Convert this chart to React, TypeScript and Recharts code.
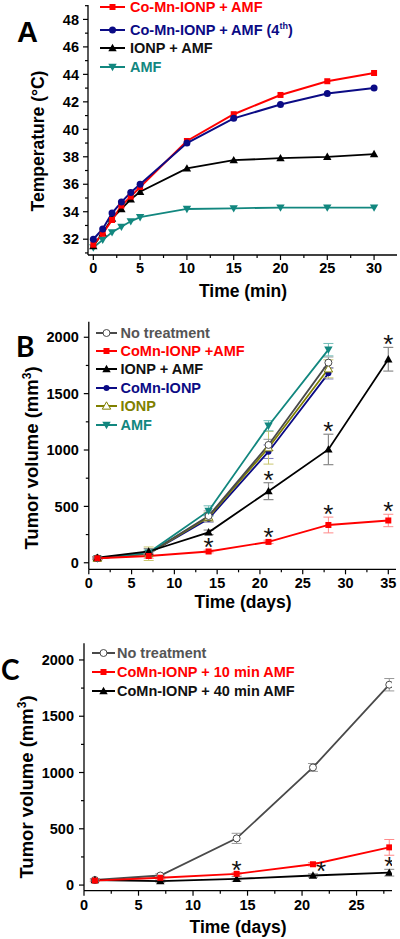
import React from 'react';
import { LineChart, Line, XAxis, YAxis, ErrorBar, Legend, Label } from 'recharts';

const FONT = '"Liberation Sans", Arial, Helvetica, sans-serif';

// ---------------- Panel A : heating curves ----------------
const timeMin = [0, 1, 2, 3, 4, 5, 10, 15, 20, 25, 30];
const tempCoMnAMF = [31.6, 32.4, 33.4, 34.45, 35.1, 35.8, 39.15, 41.1, 42.5, 43.5, 44.1];
const tempCoMnAMF4th = [32.0, 32.75, 33.9, 34.7, 35.4, 36.0, 39.0, 40.8, 41.8, 42.6, 43.0];
const tempIONPAMF = [31.5, 32.45, 33.5, 34.2, 34.9, 35.45, 37.15, 37.75, 37.9, 38.0, 38.2];
const tempAMF = [31.4, 31.95, 32.5, 32.9, 33.3, 33.6, 34.2, 34.25, 34.3, 34.3, 34.3];
const aXMajor = [0, 5, 10, 15, 20, 25, 30];
const aXMinor = [2.5, 7.5, 12.5, 17.5, 22.5, 27.5];
const aYMajor = [32, 34, 36, 38, 40, 42, 44, 46, 48];
const aYMinor = [31, 33, 35, 37, 39, 41, 43, 45, 47, 49];

// ---------------- Panel B : tumor volume ----------------
const daysB = [1, 7, 14, 21, 28, 35];
const bNoTreat = [40, 85, 415, 1045, 1775, null];
const bNoTreatErr = [10, 15, 45, 50, 50, null];
const bCoMnAMF = [40, 60, 100, 185, 335, 375];
const bCoMnAMFErr = [10, 20, 12, 15, 70, 55];
const bIONPAMF = [45, 100, 270, 635, 1005, 1805];
const bIONPAMFErr = [10, 25, 20, 75, 135, 105];
const bCoMn = [40, 80, 390, 985, 1680, null];
const bCoMnErr = [10, 15, 30, 60, 50, null];
const bIONP = [40, 80, 405, 1020, 1720, null];
const bIONPErr = [15, 60, 40, 145, 80, null];
const bAMF = [40, 90, 460, 1215, 1890, null];
const bAMFErr = [10, 20, 45, 45, 55, null];
const bSigCoMnAMF = [false, false, true, true, true, true];
const bSigIONPAMF = [false, false, false, true, true, true];
const bXMajor = [0, 5, 10, 15, 20, 25, 30, 35];
const bXMinor = [2.5, 7.5, 12.5, 17.5, 22.5, 27.5, 32.5];
const volMajor = [0, 500, 1000, 1500, 2000];
const volMinor = [250, 750, 1250, 1750];

// ---------------- Panel C : AMF duration ----------------
const daysC = [1, 7, 14, 21, 28];
const cNoTreat = [45, 85, 415, 1045, 1780];
const cNoTreatErr = [10, 15, 45, 35, 55];
const c10min = [40, 65, 100, 185, 335];
const c10minErr = [10, 10, 10, 15, 70];
const c40min = [45, 35, 55, 85, 110];
const c40minErr = [10, 10, 20, 15, 30];
const cSig10min = [false, false, true, false, false];
const cSig40min = [false, false, false, true, true];
const cXMajor = [0, 5, 10, 15, 20, 25];
const cXMinor = [2.5, 7.5, 12.5, 17.5, 22.5, 27.5];

// ---------------- colours ----------------
const RED = '#ff0000';
const NAVY = '#0b0b85';
const BLACK = '#000000';
const TEAL = '#12877f';
const OLIVE = '#808000';
const GRAY = '#4a4a4a';

// ---------------- tables ----------------
const tableA = timeMin.map((t, i) => ({
  t,
  coMn: tempCoMnAMF[i],
  coMn4: tempCoMnAMF4th[i],
  ionp: tempIONPAMF[i],
  amf: tempAMF[i],
}));

const star = (flag: boolean, v: number | null, e: number | null) =>
  flag && v != null ? v + (e || 0) : null;

const tableB = daysB.map((d, i) => ({
  d,
  noTreat: bNoTreat[i], noTreatErr: bNoTreatErr[i],
  coMnAMF: bCoMnAMF[i], coMnAMFErr: bCoMnAMFErr[i],
  ionpAMF: bIONPAMF[i], ionpAMFErr: bIONPAMFErr[i],
  coMn: bCoMn[i], coMnErr: bCoMnErr[i],
  ionp: bIONP[i], ionpErr: bIONPErr[i],
  amf: bAMF[i], amfErr: bAMFErr[i],
  starRed: star(bSigCoMnAMF[i], bCoMnAMF[i], bCoMnAMFErr[i]),
  starBlack: star(bSigIONPAMF[i], bIONPAMF[i], bIONPAMFErr[i]),
}));

const tableC = daysC.map((d, i) => ({
  d,
  noTreat: cNoTreat[i], noTreatErr: cNoTreatErr[i],
  m10: c10min[i], m10Err: c10minErr[i],
  m40: c40min[i], m40Err: c40minErr[i],
  starRed: star(cSig10min[i], c10min[i], c10minErr[i]),
  starBlack: star(cSig40min[i], c40min[i], c40minErr[i]),
}));

// ---------------- markers ----------------
type Shape = 'square' | 'circle' | 'triUp' | 'triDown' | 'openCircle' | 'openTriUp';

function Marker({ cx, cy, shape, color, size }: { cx: number; cy: number; shape: Shape; color: string; size: number }) {
  const s = size;
  switch (shape) {
    case 'square':
      return <rect x={cx - s / 2} y={cy - s / 2} width={s} height={s} fill={color} />;
    case 'circle':
      return <circle cx={cx} cy={cy} r={s / 2} fill={color} />;
    case 'openCircle':
      return <circle cx={cx} cy={cy} r={s / 2} fill="#fff" stroke={color} strokeWidth={1} />;
    case 'triUp':
      return <path d={`M${cx},${cy - s * 0.6}L${cx + s * 0.6},${cy + s * 0.45}L${cx - s * 0.6},${cy + s * 0.45}Z`} fill={color} />;
    case 'openTriUp':
      return <path d={`M${cx},${cy - s * 0.6}L${cx + s * 0.6},${cy + s * 0.45}L${cx - s * 0.6},${cy + s * 0.45}Z`} fill="#fff" stroke={color} strokeWidth={1} />;
    case 'triDown':
      return <path d={`M${cx},${cy + s * 0.6}L${cx + s * 0.6},${cy - s * 0.45}L${cx - s * 0.6},${cy - s * 0.45}Z`} fill={color} />;
  }
  return null;
}

const dotFn = (shape: Shape, color: string, size: number) => (p: any) => {
  const key = `${p.dataKey}-${p.index}`;
  if (p.cx == null || p.cy == null || p.value == null || isNaN(p.cy)) return <g key={key} />;
  return <Marker key={key} cx={p.cx} cy={p.cy} shape={shape} color={color} size={size} />;
};

const starDot = (shiftFor?: (d: number) => number) => (p: any) => {
  const key = `${p.dataKey}-${p.index}`;
  if (p.cx == null || p.cy == null || p.value == null || isNaN(p.cy)) return <g key={key} />;
  const dx = shiftFor ? shiftFor(p.payload.d) : 0;
  return (
    <text key={key} x={p.cx + dx} y={p.cy + 6} textAnchor="middle" fontSize={26} fontFamily={FONT} fill="#111">
      *
    </text>
  );
};

// ---------------- ticks ----------------
const xTick = (majors: number[], labelDy: number) => (props: any) => {
  const { x, y, payload } = props;
  const major = majors.includes(payload.value);
  const len = major ? 5 : 3;
  return (
    <g>
      <line x1={x} x2={x} y1={y} y2={y + len} stroke="#000" strokeWidth={1.2} />
      {major && (
        <text x={x} y={y + labelDy} textAnchor="middle" fontSize={14.5} fontWeight="bold" fontFamily={FONT} fill="#000">
          {payload.value}
        </text>
      )}
    </g>
  );
};

const yTick = (majors: number[], gap: number) => (props: any) => {
  const { x, y, payload } = props;
  const major = majors.includes(payload.value);
  const len = major ? 5 : 3;
  return (
    <g>
      <line x1={x - len} x2={x} y1={y} y2={y} stroke="#000" strokeWidth={1.2} />
      {major && (
        <text x={x - gap} y={y} dy="0.36em" textAnchor="end" fontSize={14.5} fontWeight="bold" fontFamily={FONT} fill="#000">
          {payload.value}
        </text>
      )}
    </g>
  );
};

const AXIS = { stroke: '#000', strokeWidth: 1.3 };
const sorted = (a: number[], b: number[]) => [...a, ...b].sort((p, q) => p - q);

// ---------------- legend ----------------
type LegendItem = { label: React.ReactNode; color: string; text: string; shape: Shape; size: number };

const legendContent = (items: LegendItem[], left: number, centers: number[], lineW: number, gap: number) => () => (
  <div style={{ position: 'relative', width: 300, height: 130 }}>
    {items.map((it, i) => (
      <div
        key={i}
        style={{
          position: 'absolute',
          left,
          top: centers[i] - 9,
          height: 18,
          display: 'flex',
          alignItems: 'center',
          whiteSpace: 'nowrap',
          fontFamily: FONT,
          fontWeight: 'bold',
          fontSize: 14.5,
          color: it.text,
        }}
      >
        <svg width={lineW} height={12} style={{ display: 'block' }}>
          <line x1={0} x2={lineW} y1={6} y2={6} stroke={it.color} strokeWidth={2} />
          <Marker cx={lineW / 2} cy={6} shape={it.shape} color={it.color} size={it.size} />
        </svg>
        <span style={{ marginLeft: gap, lineHeight: '18px' }}>{it.label}</span>
      </div>
    ))}
  </div>
);

const legendA: LegendItem[] = [
  { label: 'Co-Mn-IONP + AMF', color: RED, text: RED, shape: 'square', size: 6 },
  { label: <>Co-Mn-IONP + AMF (4<sup style={{ fontSize: 9, verticalAlign: 'top', lineHeight: '10px' }}>th</sup>)</>, color: NAVY, text: NAVY, shape: 'circle', size: 7 },
  { label: 'IONP + AMF', color: BLACK, text: '#111', shape: 'triUp', size: 7 },
  { label: 'AMF', color: TEAL, text: TEAL, shape: 'triDown', size: 7 },
];

const legendB: LegendItem[] = [
  { label: 'No treatment', color: GRAY, text: '#555', shape: 'openCircle', size: 7 },
  { label: 'CoMn-IONP +AMF', color: RED, text: RED, shape: 'square', size: 6 },
  { label: 'IONP + AMF', color: BLACK, text: '#111', shape: 'triUp', size: 7 },
  { label: 'CoMn-IONP', color: NAVY, text: NAVY, shape: 'circle', size: 6 },
  { label: 'IONP', color: OLIVE, text: OLIVE, shape: 'openTriUp', size: 7 },
  { label: 'AMF', color: TEAL, text: TEAL, shape: 'triDown', size: 7 },
];

const legendC: LegendItem[] = [
  { label: 'No treatment', color: GRAY, text: '#555', shape: 'openCircle', size: 7 },
  { label: 'CoMn-IONP + 10 min AMF', color: RED, text: RED, shape: 'square', size: 6 },
  { label: 'CoMn-IONP + 40 min AMF', color: BLACK, text: '#111', shape: 'triUp', size: 7 },
];

const legendWrap = { position: 'absolute' as const, left: 0, top: 0, width: 300, height: 130 };

// ---------------- titles ----------------
const volTitle = (x: number, y: number, letter: string, lx: number, ly: number, lfs: number) => () => (
  <g>
    <text
      x={x}
      y={y}
      transform={`rotate(-90, ${x}, ${y})`}
      textAnchor="middle"
      fontSize={18.5}
      fontWeight="bold"
      fontFamily={FONT}
      fill="#000"
    >
      <tspan>Tumor volume (mm</tspan>
      <tspan dy={-7} fontSize={12}>3</tspan>
      <tspan dy={7}>)</tspan>
    </text>
    <text x={lx} y={ly} fontSize={lfs} fontWeight="bold" fontFamily={'Lato, "Open Sans", sans-serif'} fill="#000">
      {letter}
    </text>
  </g>
);

const xTitle = (text: string, x: number, y: number, fs: number) => () => (
  <text x={x} y={y} textAnchor="middle" fontSize={fs} fontWeight="bold" fontFamily={FONT} fill="#000">
    {text}
  </text>
);

function PanelA() {
  return (
    <LineChart width={400} height={310} data={tableA} margin={{ top: 5, right: 3, bottom: 10, left: 0 }}>
      <XAxis
        dataKey="t"
        type="number"
        domain={[-0.57, 32.45]}
        allowDataOverflow
        ticks={sorted(aXMajor, aXMinor)}
        interval={0}
        tickSize={0}
        tickMargin={0}
        tickLine={false}
        tick={xTick(aXMajor, 18)}
        axisLine={AXIS}
        height={45}
      >
        <Label content={xTitle('Time (min)', 243, 297, 17.5)} />
      </XAxis>
      <YAxis
        type="number"
        domain={[30.85, 49.05]}
        allowDataOverflow
        ticks={sorted(aYMajor, aYMinor)}
        interval={0}
        tickSize={0}
        tickMargin={0}
        tickLine={false}
        tick={yTick(aYMajor, 9)}
        axisLine={AXIS}
        width={88}
      >
        <Label
          content={() => (
            <g>
              <text x={44} y={141} transform="rotate(-90, 44, 141)" textAnchor="middle" fontSize={17.5} fontWeight="bold" fontFamily={FONT} fill="#000">
                Temperature (°C)
              </text>
              <text x={17} y={42} fontSize={29} fontWeight="bold" fontFamily={FONT} fill="#000">A</text>
            </g>
          )}
        />
      </YAxis>
      <Legend
        layout="vertical"
        align="center"
        verticalAlign="middle"
        wrapperStyle={legendWrap}
        content={legendContent(legendA, 100, [7.3, 30, 47.7, 66.7], 25, 5)}
      />
      <Line dataKey="amf" stroke={TEAL} strokeWidth={1.8} dot={dotFn('triDown', TEAL, 7)} activeDot={false} isAnimationActive={false} />
      <Line dataKey="ionp" stroke={BLACK} strokeWidth={1.8} dot={dotFn('triUp', BLACK, 7)} activeDot={false} isAnimationActive={false} />
      <Line dataKey="coMn" stroke={RED} strokeWidth={2} dot={dotFn('square', RED, 6)} activeDot={false} isAnimationActive={false} />
      <Line dataKey="coMn4" stroke={NAVY} strokeWidth={2} dot={dotFn('circle', NAVY, 7)} activeDot={false} isAnimationActive={false} />
    </LineChart>
  );
}

function PanelB() {
  return (
    <LineChart width={400} height={310} data={tableB} margin={{ top: 11.7, right: 4, bottom: 5.7, left: 0 }}>
      <XAxis
        dataKey="d"
        type="number"
        domain={[0, 35.9]}
        allowDataOverflow
        ticks={sorted(bXMajor, bXMinor)}
        interval={0}
        tickSize={0}
        tickMargin={0}
        tickLine={false}
        tick={xTick(bXMajor, 19)}
        axisLine={AXIS}
        height={45}
      >
        <Label content={xTitle('Time (days)', 243, 298, 17.5)} />
      </XAxis>
      <YAxis
        type="number"
        domain={[-58, 2138]}
        allowDataOverflow
        ticks={sorted(volMajor, volMinor)}
        interval={0}
        tickSize={0}
        tickMargin={0}
        tickLine={false}
        tick={yTick(volMajor, 10)}
        axisLine={AXIS}
        width={88.8}
      >
        <Label content={volTitle(38, 148, 'B', 16, 47, 28)} />
      </YAxis>
      <Legend
        layout="vertical"
        align="center"
        verticalAlign="middle"
        wrapperStyle={legendWrap}
        content={legendContent(legendB, 96, [22.7, 41, 59.4, 77.8, 96.2, 114.6], 21, 3.5)}
      />
      <Line dataKey="coMn" stroke={NAVY} strokeWidth={1.8} dot={dotFn('circle', NAVY, 6)} activeDot={false} isAnimationActive={false}>
        <ErrorBar dataKey="coMnErr" width={5} stroke="#7d7dc0" strokeWidth={1} direction="y" />
      </Line>
      <Line dataKey="ionp" stroke={OLIVE} strokeWidth={1.8} dot={dotFn('openTriUp', OLIVE, 7)} activeDot={false} isAnimationActive={false}>
        <ErrorBar dataKey="ionpErr" width={5} stroke="#c9c770" strokeWidth={1} direction="y" />
      </Line>
      <Line dataKey="noTreat" stroke={GRAY} strokeWidth={1.8} dot={dotFn('openCircle', GRAY, 7)} activeDot={false} isAnimationActive={false}>
        <ErrorBar dataKey="noTreatErr" width={5} stroke="#999" strokeWidth={1} direction="y" />
      </Line>
      <Line dataKey="amf" stroke={TEAL} strokeWidth={1.8} dot={dotFn('triDown', TEAL, 7)} activeDot={false} isAnimationActive={false}>
        <ErrorBar dataKey="amfErr" width={5} stroke="#72bdb7" strokeWidth={1} direction="y" />
      </Line>
      <Line dataKey="ionpAMF" stroke={BLACK} strokeWidth={1.8} dot={dotFn('triUp', BLACK, 7)} activeDot={false} isAnimationActive={false}>
        <ErrorBar dataKey="ionpAMFErr" width={5} stroke="#8a8a8a" strokeWidth={1.2} direction="y" />
      </Line>
      <Line dataKey="coMnAMF" stroke={RED} strokeWidth={1.8} dot={dotFn('square', RED, 6)} activeDot={false} isAnimationActive={false}>
        <ErrorBar dataKey="coMnAMFErr" width={5} stroke="#ff8a8a" strokeWidth={1} direction="y" />
      </Line>
      <Line dataKey="starRed" stroke="none" dot={starDot()} activeDot={false} legendType="none" isAnimationActive={false} />
      <Line dataKey="starBlack" stroke="none" dot={starDot()} activeDot={false} legendType="none" isAnimationActive={false} />
    </LineChart>
  );
}

function PanelC() {
  return (
    <LineChart width={400} height={319} data={tableC} margin={{ top: 23.3, right: 8, bottom: 3.3, left: 0 }}>
      <XAxis
        dataKey="d"
        type="number"
        domain={[0, 28.25]}
        allowDataOverflow
        ticks={sorted(cXMajor, cXMinor)}
        interval={0}
        tickSize={0}
        tickMargin={0}
        tickLine={false}
        tick={xTick(cXMajor, 19)}
        axisLine={AXIS}
        height={45}
      >
        <Label content={xTitle('Time (days)', 238, 313, 17.5)} />
      </XAxis>
      <YAxis
        type="number"
        domain={[-50, 2148]}
        allowDataOverflow
        ticks={sorted(volMajor, volMinor)}
        interval={0}
        tickSize={0}
        tickMargin={0}
        tickLine={false}
        tick={yTick(volMajor, 10)}
        axisLine={AXIS}
        width={84}
      >
        <Label content={volTitle(33, 167, 'C', 1, 60, 28)} />
      </YAxis>
      <Legend
        layout="vertical"
        align="center"
        verticalAlign="middle"
        wrapperStyle={legendWrap}
        content={legendContent(legendC, 92, [33.3, 51.7, 70.7], 23, 2)}
      />
      <Line dataKey="noTreat" stroke={GRAY} strokeWidth={1.8} dot={dotFn('openCircle', GRAY, 7)} activeDot={false} isAnimationActive={false}>
        <ErrorBar dataKey="noTreatErr" width={5} stroke="#999" strokeWidth={1} direction="y" />
      </Line>
      <Line dataKey="m40" stroke={BLACK} strokeWidth={1.8} dot={dotFn('triUp', BLACK, 7)} activeDot={false} isAnimationActive={false}>
        <ErrorBar dataKey="m40Err" width={5} stroke="#8a8a8a" strokeWidth={1} direction="y" />
      </Line>
      <Line dataKey="m10" stroke={RED} strokeWidth={1.8} dot={dotFn('square', RED, 6)} activeDot={false} isAnimationActive={false}>
        <ErrorBar dataKey="m10Err" width={5} stroke="#ff8a8a" strokeWidth={1} direction="y" />
      </Line>
      <Line dataKey="starRed" stroke="none" dot={starDot()} activeDot={false} legendType="none" isAnimationActive={false} />
      <Line dataKey="starBlack" stroke="none" dot={starDot((d) => (d === 21 ? 8 : 0))} activeDot={false} legendType="none" isAnimationActive={false} />
    </LineChart>
  );
}

export default function App() {
  return (
    <div style={{ position: 'absolute', left: 0, top: 0, width: 400, height: 939, background: '#fff', fontFamily: FONT }}>
      <div style={{ position: 'absolute', left: 0, top: 0 }}>
        <PanelA />
      </div>
      <div style={{ position: 'absolute', left: 0, top: 310 }}>
        <PanelB />
      </div>
      <div style={{ position: 'absolute', left: 0, top: 620 }}>
        <PanelC />
      </div>
    </div>
  );
}
